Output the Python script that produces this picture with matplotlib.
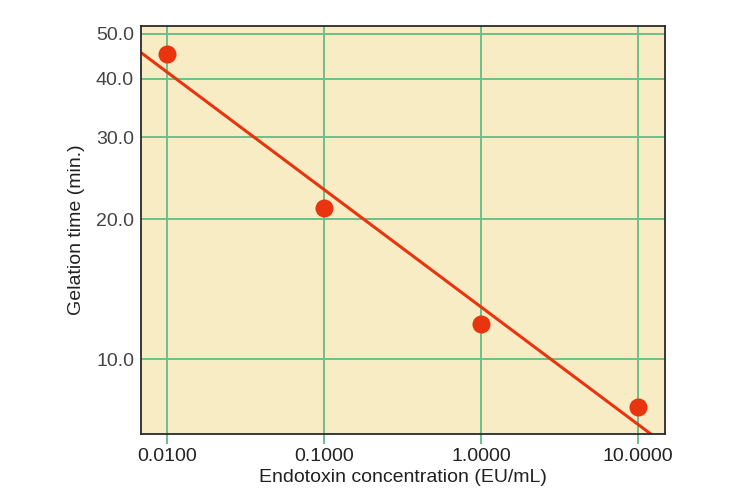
import numpy as np
import matplotlib
matplotlib.use('Agg')
import matplotlib.pyplot as plt
from matplotlib.ticker import FixedLocator, FixedFormatter, NullLocator

# --- data ---
concentration = [0.01, 0.1, 1.0, 10.0]      # EU/mL
gelation_time = [45.3, 21.1, 11.9, 7.9]     # min.

x_ticks = [0.01, 0.1, 1.0, 10.0]
x_labels = ['0.0100', '0.1000', '1.0000', '10.0000']
y_ticks = [10, 20, 30, 40, 50]
y_labels = ['10.0', '20.0', '30.0', '40.0', '50.0']

# colours
bg = '#F8ECC4'
grid_green = '#6DBF8A'
red = '#E8340F'
text_col = '#444444'

plt.rcParams['font.family'] = ['Liberation Sans', 'DejaVu Sans']

fig = plt.figure(figsize=(7.5, 5), dpi=100)
ax = fig.add_axes([141 / 750, 1 - 434 / 500, 524 / 750, 408 / 500])
ax.set_facecolor(bg)
ax.set_xscale('log')
ax.set_yscale('log')
ax.set_xlim(0.00683, 14.9)
ax.set_ylim(6.9, 52.0)

# log-log least squares fit line
slope, icpt = np.polyfit(np.log10(concentration), np.log10(gelation_time), 1)
xf = np.logspace(np.log10(0.00683), np.log10(14.9), 50)
ax.plot(xf, 10 ** (icpt + slope * np.log10(xf)), color=red, lw=2.2, zorder=3)

ax.plot(concentration, gelation_time, 'o', color=red, markersize=13,
        markeredgewidth=0, zorder=4, clip_on=False)

ax.xaxis.set_major_locator(FixedLocator(x_ticks))
ax.xaxis.set_major_formatter(FixedFormatter(x_labels))
ax.xaxis.set_minor_locator(NullLocator())
ax.yaxis.set_major_locator(FixedLocator(y_ticks))
ax.yaxis.set_major_formatter(FixedFormatter(y_labels))
ax.yaxis.set_minor_locator(NullLocator())

ax.grid(True, which='major', color=grid_green, lw=1.4, zorder=1)
ax.set_axisbelow(True)
ax.tick_params(axis='x', direction='out', length=7, width=1.4, color=grid_green,
               labelsize=14, labelcolor='#222222', pad=3)
ax.tick_params(axis='y', length=0, labelsize=14, labelcolor=text_col, pad=5)

for s in ax.spines.values():
    s.set_color('#2a2a2a')
    s.set_linewidth(1.3)
    s.set_zorder(5)

ax.set_xlabel('Endotoxin concentration (EU/mL)', fontsize=14, color='#222222', labelpad=3)
ax.set_ylabel('Gelation time (min.)', fontsize=14, color='#222222', labelpad=8)

fig.savefig('out.png', dpi=100)
